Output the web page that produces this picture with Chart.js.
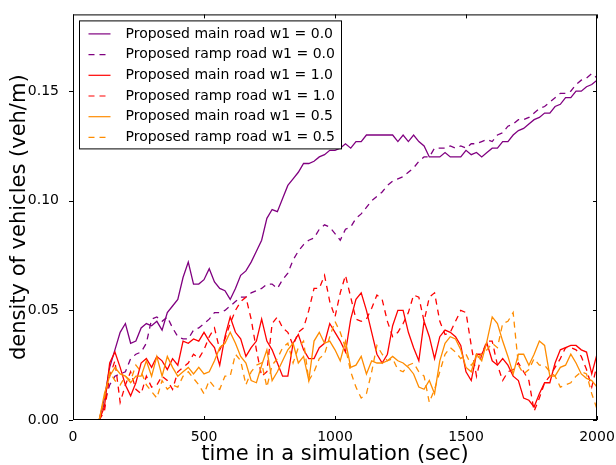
<!DOCTYPE html>
<html>
<head>
<meta charset="utf-8">
<script src="https://cdn.jsdelivr.net/npm/chart.js@4/dist/chart.umd.min.js"></script>
<style>
  html, body { margin: 0; padding: 0; background: #fff; }
  #wrap { width: 616px; height: 465px; }
</style>
</head>
<body>
<div id="wrap"><canvas id="chartDensity" width="616" height="465"></canvas></div>
<script>
// time in a simulation (sec)
const times = [
  100, 120, 140, 160, 180, 200, 220, 240, 260, 280,
  300, 320, 340, 360, 380, 400, 420, 440, 460, 480,
  500, 520, 540, 560, 580, 600, 620, 640, 660, 680,
  700, 720, 740, 760, 780, 800, 820, 840, 860, 880,
  900, 920, 940, 960, 980, 1000, 1020, 1040, 1060, 1080,
  1100, 1120, 1140, 1160, 1180, 1200, 1220, 1240, 1260, 1280,
  1300, 1320, 1340, 1360, 1380, 1400, 1420, 1440, 1460, 1480,
  1500, 1520, 1540, 1560, 1580, 1600, 1620, 1640, 1660, 1680,
  1700, 1720, 1740, 1760, 1780, 1800, 1820, 1840, 1860, 1880,
  1900, 1920, 1940, 1960, 1980, 2000
];

const mainW00 = [
  0, 0.01, 0.024, 0.032, 0.04, 0.044, 0.035, 0.036, 0.042, 0.044,
  0.043, 0.045, 0.041, 0.049, 0.052, 0.055, 0.065, 0.072, 0.062, 0.062,
  0.064, 0.069, 0.063, 0.06, 0.059, 0.055, 0.06, 0.066, 0.068, 0.072,
  0.077, 0.082, 0.092, 0.096, 0.095, 0.101, 0.107, 0.11, 0.113, 0.117,
  0.117, 0.118, 0.12, 0.121, 0.123, 0.123, 0.124, 0.126, 0.124, 0.127,
  0.127, 0.13, 0.13, 0.13, 0.13, 0.13, 0.13, 0.127, 0.13, 0.127,
  0.13, 0.127, 0.125, 0.12, 0.12, 0.12, 0.122, 0.12, 0.12, 0.12,
  0.123, 0.121, 0.122, 0.12, 0.122, 0.124, 0.124, 0.127, 0.127, 0.13,
  0.132, 0.133, 0.135, 0.137, 0.138, 0.14, 0.14, 0.143, 0.144, 0.147,
  0.147, 0.15, 0.15, 0.152, 0.153, 0.155
];
const rampW00 = [
  0, 0.008, 0.016, 0.02, 0.021, 0.022, 0.028, 0.03, 0.031, 0.035,
  0.046, 0.047, 0.045, 0.047, 0.042, 0.038, 0.037, 0.037, 0.041, 0.042,
  0.044, 0.046, 0.049, 0.049, 0.05, 0.052, 0.054, 0.056, 0.056, 0.058,
  0.059, 0.06, 0.062, 0.062, 0.06, 0.064, 0.067, 0.073, 0.077, 0.08,
  0.082, 0.083, 0.087, 0.089, 0.088, 0.085, 0.082, 0.087, 0.088, 0.092,
  0.094, 0.097, 0.1, 0.102, 0.104, 0.107, 0.109, 0.11, 0.111, 0.113,
  0.115, 0.118, 0.12, 0.12, 0.124, 0.124, 0.124, 0.125, 0.124, 0.125,
  0.124, 0.126, 0.126, 0.127, 0.128, 0.127, 0.13, 0.131, 0.134, 0.135,
  0.137, 0.137, 0.138, 0.14, 0.142, 0.143, 0.145, 0.147, 0.149, 0.149,
  0.15, 0.153, 0.155, 0.156, 0.158, 0.156
];
const mainW10 = [
  0, 0.006, 0.026, 0.031, 0.024, 0.016, 0.011, 0.017, 0.026, 0.028,
  0.024, 0.029, 0.027, 0.023, 0.028, 0.025, 0.036, 0.035, 0.037, 0.036,
  0.04, 0.036, 0.033, 0.025, 0.038, 0.047, 0.04, 0.037, 0.029, 0.033,
  0.036, 0.046, 0.036, 0.032, 0.026, 0.02, 0.02, 0.035, 0.039, 0.032,
  0.028, 0.028, 0.033, 0.035, 0.044, 0.04, 0.036, 0.031, 0.046, 0.055,
  0.058, 0.05, 0.04, 0.03, 0.026, 0.03, 0.043, 0.05, 0.05, 0.04,
  0.033, 0.027, 0.045, 0.038, 0.028, 0.038, 0.041, 0.04, 0.038, 0.034,
  0.022, 0.018, 0.03, 0.03, 0.035, 0.027, 0.025, 0.028, 0.025, 0.02,
  0.018, 0.01, 0.009, 0.006, 0.012, 0.017, 0.017, 0.026, 0.032, 0.033,
  0.034, 0.034, 0.032, 0.031, 0.021, 0.03
];
const rampW10 = [
  0, 0.004, 0.02, 0.027, 0.008, 0.016, 0.022, 0.014, 0.012, 0.02,
  0.015, 0.016, 0.02, 0.018, 0.014, 0.022, 0.024, 0.026, 0.03, 0.028,
  0.032, 0.038, 0.042, 0.032, 0.037, 0.044, 0.05, 0.054, 0.056, 0.046,
  0.032, 0.02, 0.022, 0.044, 0.047, 0.042, 0.04, 0.034, 0.04, 0.042,
  0.05, 0.06, 0.06, 0.066, 0.054, 0.047, 0.058, 0.066, 0.056, 0.046,
  0.045, 0.046, 0.051, 0.057, 0.055, 0.045, 0.038, 0.04, 0.044, 0.049,
  0.057, 0.056, 0.045, 0.056, 0.058, 0.045, 0.039, 0.04, 0.045, 0.05,
  0.049, 0.034, 0.02, 0.03, 0.036, 0.036, 0.025, 0.018, 0.022, 0.023,
  0.026, 0.022, 0.018, 0.004, 0.01, 0.017, 0.02, 0.024, 0.028, 0.033,
  0.033, 0.032, 0.029, 0.023, 0.015, 0.025
];
const mainW05 = [
  0, 0.012, 0.02, 0.024, 0.021, 0.02, 0.017, 0.02, 0.02, 0.027,
  0.02, 0.029, 0.02, 0.029, 0.024, 0.02, 0.022, 0.024, 0.021, 0.024,
  0.021, 0.022, 0.027, 0.033, 0.035, 0.04, 0.035, 0.029, 0.026, 0.018,
  0.017, 0.025, 0.032, 0.018, 0.022, 0.027, 0.032, 0.035, 0.026, 0.029,
  0.018, 0.036, 0.04, 0.035, 0.036, 0.032, 0.027, 0.036, 0.024, 0.025,
  0.029, 0.021, 0.027, 0.026, 0.026, 0.027, 0.029, 0.027, 0.026, 0.024,
  0.021, 0.015, 0.014, 0.018, 0.012, 0.027, 0.035, 0.038, 0.037, 0.032,
  0.024, 0.022, 0.03, 0.027, 0.036, 0.047, 0.044, 0.036, 0.029, 0.021,
  0.03, 0.03, 0.025, 0.03, 0.036, 0.034, 0.02, 0.02, 0.024, 0.025,
  0.03, 0.026, 0.021, 0.019, 0.018, 0.015
];
const rampW05 = [
  0, 0.01, 0.022, 0.018, 0.016, 0.02, 0.018, 0.025, 0.022, 0.016,
  0.013, 0.01, 0.018, 0.014, 0.016, 0.015, 0.02, 0.022, 0.019, 0.016,
  0.012, 0.018, 0.015, 0.014, 0.02, 0.02, 0.03, 0.027, 0.016, 0.022,
  0.025, 0.026, 0.015, 0.025, 0.028, 0.033, 0.035, 0.026, 0.033, 0.036,
  0.018, 0.022, 0.028, 0.03, 0.038, 0.045, 0.04, 0.033, 0.022, 0.015,
  0.01, 0.012, 0.022, 0.034, 0.03, 0.027, 0.028, 0.023, 0.022, 0.025,
  0.026, 0.022, 0.02, 0.008, 0.014, 0.022, 0.03, 0.033, 0.031, 0.028,
  0.03, 0.025, 0.028, 0.03, 0.032, 0.035, 0.033, 0.044, 0.045, 0.049,
  0.025, 0.021, 0.023, 0.028, 0.025, 0.025, 0.022, 0.02, 0.015, 0.016,
  0.017, 0.02, 0.022, 0.021, 0.012, 0.005
];

const seriesLabels = [
  'Proposed main road w1 = 0.0',
  'Proposed ramp road w1 = 0.0',
  'Proposed main road w1 = 1.0',
  'Proposed ramp road w1 = 1.0',
  'Proposed main road w1 = 0.5',
  'Proposed ramp road w1 = 0.5'
];
const xTicks = [0, 500, 1000, 1500, 2000];
const yTicks = [0, 0.05, 0.10, 0.15];

const seriesValues = [mainW00, rampW00, mainW10, rampW10, mainW05, rampW05];
const seriesColors = ['#800080', '#800080', '#ff0000', '#ff0000', '#ff8c00', '#ff8c00'];

const FONT = "'DejaVu Sans', sans-serif";

// legend box drawn inside the plot, like matplotlib
const insideLegend = {
  id: 'insideLegend',
  afterDraw(chart) {
    const c = chart.ctx;
    const a = chart.chartArea;
    const x0 = a.left + 6.5, y0 = a.top + 6.5;
    const w = 262, h = 128, row = 20.7;
    c.save();
    c.fillStyle = '#fff';
    c.strokeStyle = '#000';
    c.lineWidth = 1;
    c.fillRect(x0, y0, w, h);
    c.strokeRect(x0, y0, w, h);
    c.font = '14px ' + FONT;
    c.textBaseline = 'middle';
    chart.data.datasets.forEach((ds, i) => {
      const y = y0 + 13 + i * row;
      c.beginPath();
      c.strokeStyle = ds.borderColor;
      c.lineWidth = 1.2;
      c.setLineDash(ds.borderDash || []);
      c.moveTo(x0 + 9, y);
      c.lineTo(x0 + 31, y);
      c.stroke();
      c.setLineDash([]);
      c.fillStyle = '#000';
      c.fillText(ds.label, x0 + 46, y);
    });
    c.restore();
  }
};

// frame and ticks on all four sides
const frameTicks = {
  id: 'frameTicks',
  afterDatasetsDraw(chart) {
    const c = chart.ctx;
    const a = chart.chartArea;
    const xs = chart.scales.x, ys = chart.scales.y;
    c.save();
    c.strokeStyle = '#000';
    c.lineWidth = 1;
    c.strokeRect(a.left + 0.5, a.top + 0.5, a.right - a.left - 1, a.bottom - a.top - 1);
    c.beginPath();
    xTicks.forEach(v => {
      const px = Math.round(xs.getPixelForValue(v)) + 0.5;
      c.moveTo(px, a.bottom); c.lineTo(px, a.bottom - 4);
      c.moveTo(px, a.top); c.lineTo(px, a.top + 4);
    });
    yTicks.forEach(v => {
      const py = Math.round(ys.getPixelForValue(v)) + 0.5;
      c.moveTo(a.left - 4, py); c.lineTo(a.left, py);
      c.moveTo(a.right, py); c.lineTo(a.right - 4, py);
    });
    c.stroke();
    c.restore();
  }
};

const ctx = document.getElementById('chartDensity').getContext('2d');
new Chart(ctx, {
  type: 'line',
  data: {
    datasets: seriesValues.map((vals, i) => ({
      label: seriesLabels[i],
      data: times.map((t, k) => ({ x: t, y: vals[k] })),
      borderColor: seriesColors[i],
      borderWidth: 1.3,
      borderDash: i % 2 === 1 ? [6, 5] : [],
      pointRadius: 0,
      tension: 0,
      fill: false,
      order: 5 - i
    }))
  },
  options: {
    responsive: false,
    animation: false,
    layout: { padding: { left: 0, top: 13, right: 19, bottom: 0 } },
    plugins: {
      legend: { display: false },
      tooltip: { enabled: false }
    },
    scales: {
      x: {
        type: 'linear',
        min: 0,
        max: 2000,
        afterFit: s => { s.height = 45; },
        afterBuildTicks: s => { s.ticks = xTicks.map(v => ({ value: v })); },
        grid: { display: false },
        border: { display: false },
        ticks: { color: '#000', font: { family: FONT, size: 14 }, padding: 1, maxRotation: 0,
                 callback: v => String(v) },
        title: { display: true, text: 'time in a simulation (sec)', color: '#000',
                 font: { family: FONT, size: 21 }, padding: { top: 0, bottom: -2 } }
      },
      y: {
        min: 0,
        max: 0.185,
        afterFit: s => { s.width = 73; },
        afterBuildTicks: s => { s.ticks = yTicks.map(v => ({ value: v })); },
        grid: { display: false },
        border: { display: false },
        ticks: { color: '#000', font: { family: FONT, size: 14 }, padding: 6,
                 callback: v => v.toFixed(2) },
        title: { display: true, text: 'density of vehicles (veh/m)', color: '#000',
                 font: { family: FONT, size: 21 }, padding: { top: 7, bottom: 0 } }
      }
    }
  },
  plugins: [frameTicks, insideLegend]
});
</script>
</body>
</html>
